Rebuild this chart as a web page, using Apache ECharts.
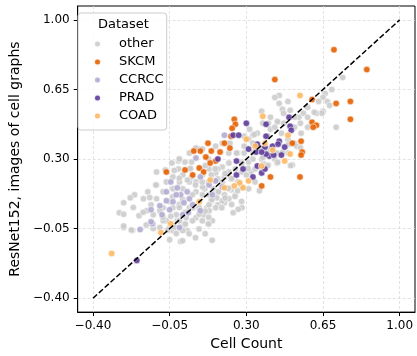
<!DOCTYPE html>
<html><head><meta charset="utf-8">
<script src="https://cdn.jsdelivr.net/npm/echarts@6/dist/echarts.min.js"></script>
<style>html,body{margin:0;padding:0;background:#fff}#c{width:417px;height:356px}</style>
</head><body><div id="c"></div>
<script>
const tickValues = [-0.40, -0.05, 0.30, 0.65, 1.00];
const seriesNames = ['other', 'SKCM', 'CCRCC', 'PRAD', 'COAD'];
const seriesColors = ['#cccccc', '#e66101', '#b2abd2', '#5e3c99', '#fdb863'];
const diagonal = [[-0.4, -0.4], [1.0, 1.0]];

const otherPts = [
[0.74,0.71],[0.69,0.65],[0.66,0.63],[0.65,0.61],[0.63,0.59],[0.67,0.59],[0.71,0.46],[0.68,0.57],[0.65,0.54],[0.645,0.53],
[0.62,0.53],[0.58,0.56],[0.56,0.53],[0.54,0.51],[0.52,0.51],[0.50,0.545],[0.49,0.59],[0.45,0.62],[0.43,0.61],[0.45,0.58],
[0.465,0.55],[0.47,0.53],[0.44,0.49],[0.41,0.51],[0.40,0.48],[0.37,0.54],[0.375,0.48],[0.41,0.45],[0.43,0.46],[0.46,0.43],
[0.52,0.46],[0.55,0.43],[0.58,0.46],[0.51,0.27],[0.44,0.28],[0.43,0.30],[0.40,0.27],[0.33,0.42],[0.31,0.40],[0.29,0.365],
[0.26,0.33],[0.22,0.33],[0.22,0.28],[0.19,0.26],[0.17,0.25],[0.16,0.23],[0.17,0.20],[0.19,0.185],[0.22,0.235],[0.23,0.20],
[0.26,0.185],[0.28,0.16],[0.31,0.15],[0.32,0.235],[0.34,0.185],[0.36,0.14],[0.36,0.26],[0.38,0.275],[0.28,0.055],[0.24,0.03],
[0.22,0.10],[0.20,0.12],[0.20,0.08],[0.17,0.07],[0.16,0.055],[0.14,0.09],[0.12,0.055],[0.10,0.12],[0.11,0.15],[0.07,0.135],
[0.07,0.185],[0.04,0.185],[0.01,0.22],[-0.01,0.25],[-0.01,0.29],[-0.04,0.28],[-0.07,0.245],[0.02,0.285],[0.04,0.33],[0.065,0.35],
[0.085,0.35],[-0.035,0.21],[-0.065,0.185],[-0.11,0.17],[-0.15,0.135],[-0.17,0.10],[-0.21,0.12],[-0.23,0.105],[-0.26,0.08],[-0.28,0.03],
[-0.26,-0.045],[-0.22,-0.06],[-0.19,0.015],[-0.155,0.04],[-0.135,0.07],[-0.11,0.10],[-0.08,0.055],[-0.065,-0.01],[-0.05,-0.045],[-0.035,-0.06],
[-0.015,-0.01],[0.015,-0.025],[0.03,-0.06],[0.00,-0.115],[0.125,-0.025],[0.145,-0.01],[0.105,0.02],[0.07,0.005],[0.06,0.055],[0.13,0.12],
[0.10,0.16],[0.31,0.285],[0.29,0.33],[0.33,0.38],[0.33,0.30],[0.28,0.285],[0.255,0.33],[0.225,0.38],[0.19,0.38],[0.16,0.365],
[0.10,0.35],[-0.125,-0.05],[0.34,0.25],[0.40,0.35],[0.46,0.33],[0.49,0.33],[0.44,0.33],[0.25,0.12],[0.26,0.14],[0.23,0.145],
[0.15,0.15],[0.17,0.135],[0.13,0.04],[0.085,0.055],[0.04,0.055],[0.025,0.005],[-0.02,0.02],[-0.035,0.055],[-0.08,-0.01],[-0.095,-0.045],
[-0.02,-0.075],[0.01,-0.045],[0.13,0.07],[0.165,0.105],[0.19,0.09],[0.22,0.15],[0.20,0.21],[0.25,0.25],[0.28,0.235],[0.30,0.22],
[0.37,0.30],[0.375,0.35],[0.29,0.415],[0.315,0.45],[0.35,0.43],[0.52,0.38],[0.49,0.40],[0.53,0.365],[0.58,0.51],[0.61,0.535],
[-0.11,0.235],[-0.005,0.30],[0.07,0.355],[0.05,0.285],[0.04,0.25],[0.10,0.25],[0.13,0.25],[0.14,0.22],[0.10,0.22],[0.05,0.21],
[-0.005,0.185],[-0.035,0.15],[0.01,0.15],[-0.08,0.135],[-0.05,0.087],[-0.006,0.071],[-0.095,0.04],[-0.125,0.02],
[-0.006,0.30],[-0.029,0.243],[0.045,0.253],[-0.006,0.204],[0.031,0.194],[0.068,0.169],[0.099,0.184],[-0.141,0.106],[-0.113,0.169],[-0.036,0.110],
[0.009,0.096],[0.054,0.120],[-0.006,0.056],[0.022,0.032],[0.054,0.056],[0.084,0.022],[0.112,0.038],[-0.081,0.007],[-0.045,0.012],[-0.126,-0.027],
[-0.006,-0.011],[0.022,-0.027],[0.054,-0.011],[0.099,-0.011],[0.128,0.007],[-0.216,0.056],[-0.26,0.022],[-0.171,0.032],[-0.26,-0.037],[-0.225,-0.057],
[-0.157,-0.032],[-0.059,-0.057],[-0.029,-0.042],[0.009,-0.06],[0.039,-0.076],[0.084,-0.052],[0.112,-0.076],[0.128,-0.027],[-0.050,-0.106],[0.009,-0.111],
[0.068,-0.096],[0.144,-0.109],
[0.443,0.488],[0.547,0.48],[0.471,0.48],[0.336,0.424],[0.398,0.415],[0.493,0.375],[0.547,0.357],[0.330,0.333],[0.278,0.276],[0.308,0.253],
[0.398,0.267],[0.443,0.284],[0.502,0.267],[0.128,0.30],[0.113,0.267],[0.158,0.251],[0.203,0.227],[0.233,0.202],[0.263,0.185],[0.128,0.185],
[0.173,0.136],[0.218,0.153],[0.203,0.104],[0.248,0.112],[0.278,0.087],[0.143,0.096],[0.233,0.071],[0.188,0.055],[0.263,0.047],[0.360,0.357],
[0.412,0.349],[0.375,0.308],[0.465,0.333]
];
const skcmPts = [
[0.70,0.85],[0.85,0.75],[0.43,0.70],[0.60,0.60],[0.71,0.58],[0.775,0.59],[0.775,0.50],[0.60,0.485],[0.62,0.47],[0.605,0.46],
[0.245,0.50],[0.25,0.475],[0.235,0.455],[0.23,0.415],[0.55,0.39],[0.555,0.335],[0.55,0.32],[0.51,0.38],[0.545,0.21],[0.41,0.21],
[0.37,0.165],[0.125,0.38],[0.06,0.34],[0.09,0.34],[0.115,0.31],[0.14,0.34],[0.18,0.335],[0.16,0.29],[0.135,0.28],[0.085,0.255],
[0.105,0.235],[0.02,0.245],[0.055,0.22],[-0.065,0.235],[0.20,0.38],[0.225,0.355]
];
const ccrccPts = [
[0.20,0.42],[0.07,0.305],[0.09,0.21],[-0.065,0.135],[-0.065,0.09],[-0.095,0.065],[-0.135,0.045],[-0.085,0.02],[-0.05,0.045],[-0.035,0.085],
[-0.015,0.155],[0.00,0.12],[0.03,0.135],[0.04,0.10],[0.015,0.08],[0.055,0.07],[0.01,0.02],[0.09,0.04],[0.13,0.17],[0.16,0.19],
[0.19,0.16],[0.145,0.12],[-0.185,-0.055],[-0.13,-0.025],[0.035,0.03],[-0.005,-0.045],[-0.135,-0.015],[-0.045,0.185],[-0.02,0.12]
];
const pradPts = [
[0.30,0.48],[0.39,0.475],[0.495,0.51],[0.50,0.465],[0.505,0.445],[0.24,0.42],[0.265,0.42],[0.17,0.30],[0.255,0.29],[0.255,0.22],
[0.31,0.35],[0.345,0.335],[0.33,0.21],[0.37,0.23],[0.35,0.375],[0.39,0.415],[0.385,0.36],[0.405,0.315],[0.425,0.32],[0.45,0.39],
[0.46,0.32],[0.42,0.365],[0.445,0.375],[0.35,0.265],[0.385,0.25],[0.285,0.25],[0.39,0.325],[0.37,0.335],[-0.20,-0.21],[0.475,0.36]
];
const coadPts = [
[-0.315,-0.175],[0.545,0.62],[0.375,0.515],[0.49,0.42],[0.42,0.345],[0.50,0.325],[0.475,0.29],[0.37,0.265],[0.31,0.19],[0.27,0.18],
[0.285,0.155],[0.245,0.165],[0.135,0.195],[0.085,0.085],[-0.045,-0.025],[-0.09,-0.07],[0.34,0.365],[0.385,0.38],[0.30,0.40],[0.20,0.155]
];
const allPts = [otherPts, skcmPts, ccrccPts, pradPts, coadPts];

const FONT = 'DejaVu Sans';
const fmt = v => (v < 0 ? '\u2212' : '') + Math.abs(v).toFixed(2);

function axisCommon(name, isY) {
  return {
    type: 'value', min: -0.47, max: 1.07,
    name: name, nameLocation: 'middle', nameGap: isY ? 48 : 24,
    nameTextStyle: { fontFamily: FONT, fontSize: 14, color: '#000' },
    axisLine: { show: true, onZero: false, lineStyle: { color: '#000', width: 1 } },
    axisTick: { show: true, length: 4, lineStyle: { color: '#000', width: 1 }, customValues: tickValues },
    axisLabel: { customValues: tickValues, formatter: fmt, fontFamily: FONT, fontSize: 12, color: '#000', margin: 8 },
    splitLine: { show: true, lineStyle: { color: '#dcdcdc', width: 0.8, type: [3, 2] } }
  };
}

const series = seriesNames.map((n, i) => ({
  name: n, type: 'scatter', data: allPts[i], symbolSize: 6.5, z: 2 + i,
  itemStyle: { color: seriesColors[i], borderColor: '#fff', borderWidth: 0.6, opacity: 0.9 }
}));
series.push({
  type: 'line', data: diagonal, symbol: 'none', z: 10, silent: true,
  lineStyle: { color: '#000', width: 1.5, type: [5.5, 2.4] }
});

const chart = echarts.init(document.getElementById('c'), null, { renderer: 'canvas' });
chart.setOption({
  animation: false,
  grid: { left: 72, right: 2, top: 6, bottom: 36, show: true, borderColor: '#000', borderWidth: 1, backgroundColor: 'transparent' },
  xAxis: axisCommon('Cell Count', false),
  yAxis: axisCommon('ResNet152, images of cell graphs', true),
  legend: {
    data: seriesNames, orient: 'vertical', left: 78, top: 13,
    padding: [24, 3, 7, 15], itemGap: 4, itemWidth: 7, itemHeight: 7, icon: 'circle',
    backgroundColor: 'rgba(255,255,255,0.85)', borderColor: '#cccccc', borderWidth: 1, borderRadius: 3,
    textStyle: { fontFamily: FONT, fontSize: 13, color: '#000', lineHeight: 14, padding: [0, 0, 0, 13] }
  },
  graphic: [{ type: 'text', left: 98, top: 18, z: 200, style: { text: 'Dataset', font: '13px "DejaVu Sans"', fill: '#000' } }],
  series: series
});
</script></body></html>
